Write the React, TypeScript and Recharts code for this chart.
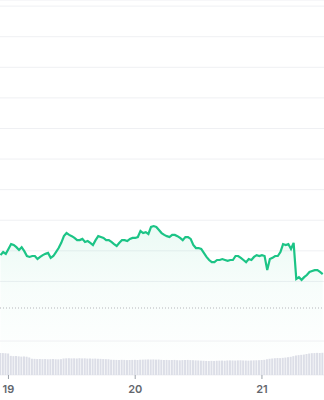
import React from 'react';
import {
  ComposedChart, Area, Bar, XAxis, YAxis, CartesianGrid, ReferenceLine
} from 'recharts';

// half-hourly samples, starting 1.5h before day 19 begins
const startHour = -1.5;
const stepHours = 0.5;

const prices = [
  12.86, 12.96, 12.90, 13.06, 13.22, 13.19, 13.12, 13.03, 13.12, 12.99,
  12.83, 12.80, 12.83, 12.83, 12.73, 12.80, 12.86, 12.90, 12.93, 12.77,
  12.83, 12.96, 13.09, 13.26, 13.48, 13.58, 13.52, 13.48, 13.42, 13.35,
  13.35, 13.39, 13.29, 13.32, 13.26, 13.19, 13.35, 13.48, 13.45, 13.42,
  13.35, 13.35, 13.29, 13.22, 13.16, 13.26, 13.35, 13.35, 13.32, 13.39,
  13.42, 13.42, 13.45, 13.65, 13.58, 13.61, 13.55, 13.78, 13.81, 13.78,
  13.68, 13.58, 13.52, 13.48, 13.45, 13.52, 13.52, 13.48, 13.42, 13.35,
  13.45, 13.45, 13.39, 13.19, 13.09, 13.09, 13.06, 12.93, 12.80, 12.70,
  12.63, 12.63, 12.70, 12.70, 12.73, 12.70, 12.67, 12.70, 12.70, 12.83,
  12.83, 12.77, 12.70, 12.63, 12.73, 12.70, 12.80, 12.86, 12.83, 12.86,
  12.83, 12.37, 12.73, 12.77, 12.83, 12.83, 12.96, 13.22, 13.19, 13.22,
  13.06, 13.26, 12.08, 12.14, 12.05, 12.14, 12.21, 12.31, 12.34, 12.37,
  12.37, 12.31, 12.24,
];

const volumes = [
  23.5, 23.4, 23.2, 22.9,
  20.4, 20.1, 20.3, 19.9, 19.6, 19.8, 19.5, 18.7,
  17.4, 17.2, 17.0, 17.1, 16.9, 17.0, 16.8, 16.9, 17.1, 16.8, 16.7, 16.9,
  17.6, 17.8, 17.9, 17.7, 17.8, 17.6, 17.9, 17.7, 17.8, 17.5,
  17.6, 17.4, 17.5, 17.3, 17.2, 17.0, 16.9, 16.8,
  16.3, 16.2, 16.1, 16.0, 16.2, 16.1, 15.9, 16.0, 16.1, 16.2,
  16.0, 16.3, 16.4, 16.5, 16.6, 16.5, 16.6, 16.4, 16.5,
  16.2, 16.0, 16.1, 15.9, 16.0, 16.1, 15.8, 15.7, 15.9, 16.0,
  16.1, 15.9, 15.8, 15.6, 15.5,
  15.3, 15.2, 15.0, 14.9, 15.1, 15.0, 15.2, 15.3, 15.4, 15.2,
  15.5, 15.6, 15.5, 15.4, 15.6, 15.7, 15.5, 15.4, 15.3, 15.5,
  15.6, 15.7, 15.8, 16.0, 16.2,
  16.8, 17.3, 17.6, 17.9, 18.1, 18.0, 18.3, 18.6, 19.0, 19.4,
  20.1, 20.8, 21.2, 21.5, 21.8, 22.4, 22.9, 23.3, 23.4, 23.6, 23.5, 23.7,
];

const dayTicks = [0, 24, 48];
const dayLabels = ['19', '20', '21'];
const priceTicks = [12, 13, 14, 15, 16, 17, 18, 19, 20, 21];
const openPrice = 11.13;
const priceFloor = 10.05;

const data = prices.map((p, i) => ({
  t: startHour + i * stepHours,
  price: p,
  volume: volumes[i],
}));

export default function App() {
  return (
    <div style={{ position: 'absolute', left: 0, top: 0 }}>
      <ComposedChart
        width={324}
        height={400}
        data={data}
        margin={{ top: 0, right: 0, bottom: 0, left: 0 }}
      >
        <defs>
          <linearGradient id="priceFill" x1="0" y1="0" x2="0" y2="1">
            <stop offset="0%" stopColor="#16c784" stopOpacity={0.14} />
            <stop offset="45%" stopColor="#16c784" stopOpacity={0.05} />
            <stop offset="100%" stopColor="#16c784" stopOpacity={0} />
          </linearGradient>
        </defs>
        <CartesianGrid yAxisId="price" vertical={false} stroke="#eff0f3" />
        <XAxis
          dataKey="t"
          type="number"
          domain={[-1.6, 59.75]}
          allowDataOverflow
          ticks={dayTicks}
          tickFormatter={v => dayLabels[dayTicks.indexOf(v)] ?? ''}
          height={25}
          axisLine={false}
          tickSize={4}
          tickMargin={6}
          tickLine={{ stroke: '#9aa0a8' }}
          tick={{ fill: '#63666d', fontSize: 11, fontWeight: 600, fontFamily: 'Inter' }}
        />
        <YAxis yAxisId="price" hide domain={[8.94, 21.2]} ticks={priceTicks} allowDataOverflow />
        <YAxis yAxisId="vol" hide domain={[0, 400]} allowDataOverflow />
        <ReferenceLine yAxisId="price" y={priceFloor} stroke="#eff0f3" />
        <Area
          yAxisId="price"
          type="linear"
          dataKey="price"
          stroke="#1cc486"
          strokeWidth={2.2}
          fill="url(#priceFill)"
          isAnimationActive={false}
          dot={false}
          activeDot={false}
        />
        <ReferenceLine yAxisId="price" y={openPrice} stroke="#b4b6bb" strokeDasharray="1 2" />
        <Bar
          yAxisId="vol"
          dataKey="volume"
          fill="#dcdee7"
          barSize={2}
          isAnimationActive={false}
          activeBar={false}
        />
      </ComposedChart>
    </div>
  );
}
